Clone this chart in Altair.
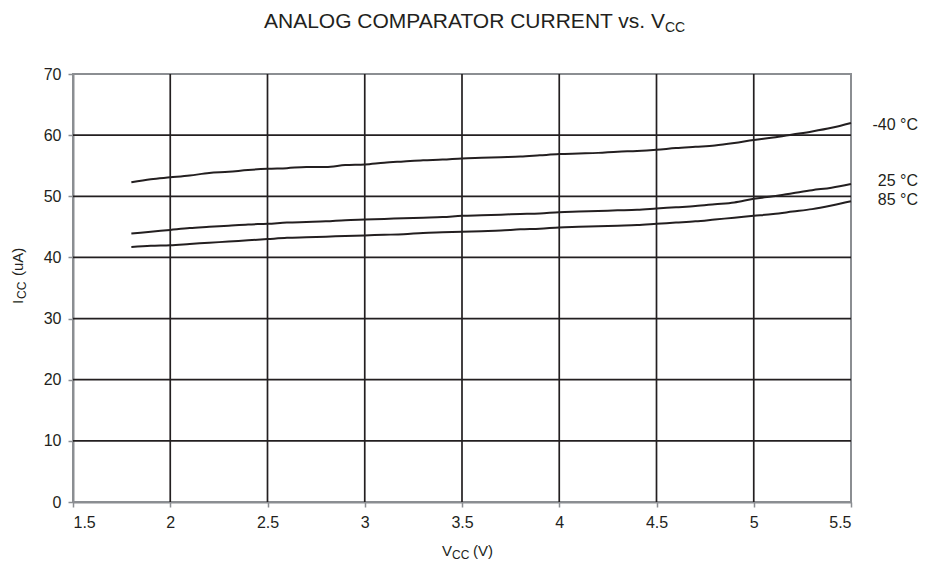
import altair as alt
import pandas as pd

# ---- data ----
vcc = [1.8, 1.9, 2.0, 2.1, 2.2, 2.3, 2.4, 2.5, 2.6, 2.7, 2.8, 2.9, 3.0, 3.1, 3.2, 3.3, 3.4, 3.5, 3.6,
       3.7, 3.8, 3.9, 4.0, 4.1, 4.2, 4.3, 4.4, 4.5, 4.6, 4.7, 4.8, 4.9, 5.0, 5.1, 5.2, 5.3, 5.4, 5.5]

icc_m40 = [52.3, 52.8, 53.1, 53.4, 53.8, 54.0, 54.3, 54.5, 54.6, 54.8, 54.8, 55.1, 55.2, 55.5, 55.7,
           55.9, 56.0, 56.2, 56.3, 56.4, 56.5, 56.7, 56.9, 57.0, 57.1, 57.3, 57.4, 57.6, 57.9, 58.1,
           58.3, 58.7, 59.2, 59.6, 60.1, 60.6, 61.2, 62.0]
icc_25 = [43.9, 44.2, 44.5, 44.8, 45.0, 45.2, 45.4, 45.5, 45.7, 45.8, 45.9, 46.1, 46.2, 46.3, 46.4,
          46.5, 46.6, 46.8, 46.9, 47.0, 47.1, 47.2, 47.4, 47.5, 47.6, 47.7, 47.8, 48.0, 48.2, 48.4,
          48.7, 49.0, 49.6, 50.0, 50.5, 51.0, 51.4, 52.0]
icc_85 = [41.7, 41.9, 42.0, 42.2, 42.4, 42.6, 42.8, 43.0, 43.2, 43.3, 43.4, 43.5, 43.6, 43.7, 43.8,
          44.0, 44.1, 44.2, 44.3, 44.4, 44.6, 44.7, 44.9, 45.0, 45.1, 45.2, 45.3, 45.5, 45.7, 45.9,
          46.2, 46.5, 46.8, 47.1, 47.5, 47.9, 48.5, 49.2]

series_names = ["-40 °C", "25 °C", "85 °C"]
label_y = [61.7, 52.5, 49.4]

x_ticks = [1.5, 2.0, 2.5, 3.0, 3.5, 4.0, 4.5, 5.0, 5.5]
y_ticks = [0, 10, 20, 30, 40, 50, 60, 70]

# ---- tables ----
rows = []
for name, vals in zip(series_names, [icc_m40, icc_25, icc_85]):
    for v, i in zip(vcc, vals):
        rows.append({"vcc": v, "icc": i, "temp": name})
df = pd.DataFrame(rows)

labels_df = pd.DataFrame({"temp": series_names, "icc": label_y, "vcc": [x_ticks[-1]] * 3})
xgrid_df = pd.DataFrame({"v": x_ticks[1:-1]})
ygrid_df = pd.DataFrame({"v": y_ticks[1:-1]})

INK = "#231f20"
FRAME = "#8b8e92"
FONT = "Liberation Sans"

xscale = alt.Scale(domain=[x_ticks[0], x_ticks[-1]], nice=False, zero=False)
yscale = alt.Scale(domain=[y_ticks[0], y_ticks[-1]], nice=False)

xaxis = alt.Axis(values=x_ticks, grid=False, title=None, labelPadding=7, format="~g",
                 labelFontSize=16)
yaxis = alt.Axis(values=y_ticks, grid=False, title=None, labelPadding=7, labelFontSize=16)

xgrid = alt.Chart(xgrid_df).mark_rule(color=INK, strokeWidth=1.7).encode(
    x=alt.X("v:Q", scale=xscale, axis=xaxis)
)
ygrid = alt.Chart(ygrid_df).mark_rule(color=INK, strokeWidth=1.7).encode(
    y=alt.Y("v:Q", scale=yscale, axis=yaxis)
)

lines = alt.Chart(df).mark_line(color=INK, strokeWidth=2, interpolate="monotone").encode(
    x=alt.X("vcc:Q", scale=xscale, axis=xaxis),
    y=alt.Y("icc:Q", scale=yscale, axis=yaxis),
    detail="temp:N",
)

end_labels = alt.Chart(labels_df).mark_text(
    align="right", baseline="middle", dx=67, font=FONT, fontSize=16, color=INK
).encode(
    x=alt.X("vcc:Q", scale=xscale),
    y=alt.Y("icc:Q", scale=yscale),
    text="temp:N",
)


def txt(s, x, y, size, align="left", angle=0):
    kw = dict(align=align, baseline="alphabetic", font=FONT, fontSize=size, color=INK)
    if angle:
        kw["angle"] = angle
    return alt.Chart(pd.DataFrame({"t": [s]})).mark_text(**kw).encode(
        text="t:N", x=alt.value(x), y=alt.value(y)
    )


# chart title with subscript
title_main = txt("ANALOG COMPARATOR CURRENT vs. V", 592, -46, 21, align="right")
title_sub = txt("CC", 592, -42, 14)

# x-axis title  V_CC (V)
xt1 = txt("V", 379, 482, 15, align="right")
xt2 = txt("CC", 379, 485, 12)
xt3 = txt("(V)", 400, 482, 15)

# y-axis title  I_CC (uA)  rotated
yt1 = txt("I", -50, 230, 15, angle=270)
yt2 = txt("CC", -47, 225, 12, angle=270)
yt3 = txt("(uA)", -50, 202, 15, angle=270)

chart = alt.layer(
    xgrid, ygrid, lines, end_labels,
    title_main, title_sub, xt1, xt2, xt3, yt1, yt2, yt3,
).properties(
    width=778, height=428,
    autosize=alt.AutoSizeParams(type="none"),
    padding={"left": 65, "top": 66, "right": 76, "bottom": 70},
).configure_view(
    stroke=FRAME, strokeWidth=2
).configure_axis(
    domainColor=FRAME, domainWidth=2,
    tickColor=FRAME, tickSize=5, tickWidth=1.5,
    labelFont=FONT, labelFontSize=16, labelColor=INK,
)

chart.save("out.html", embed_options={"renderer": "svg", "actions": False})
